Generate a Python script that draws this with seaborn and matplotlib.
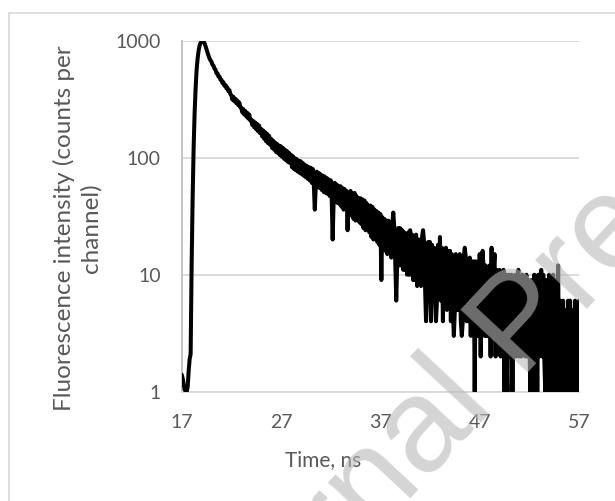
import numpy as np
import pandas as pd
import seaborn as sns
import matplotlib
matplotlib.use("Agg")
import matplotlib.pyplot as plt
from matplotlib.lines import Line2D
from matplotlib.ticker import NullLocator, FixedLocator, FixedFormatter

# ---------------- data ----------------
t_first = 17.0          # ns, first channel shown
t_step = 0.1            # ns per channel
counts = [
    1.4, 1.3, 1.15, 1.05, 1.0, 1.0, 1.1, 1.5, 1.9, 2.1,          # 17
    12, 45, 120, 240, 390, 560, 700, 820, 910, 960,              # 18
    985, 995, 980, 950, 900, 840, 790, 745, 705, 680,            # 19
    660, 622, 612, 578, 566, 526, 526, 494, 494, 464,            # 20
    463, 434, 442, 412, 419, 392, 398, 371, 378, 350,            # 21
    340, 314, 332, 304, 319, 292, 308, 281, 296, 270,            # 22
    268, 244, 260, 234, 251, 225, 242, 216, 234, 208,            # 23
    212, 190, 206, 182, 200, 175, 194, 168, 188, 162,            # 24
    176, 152, 171, 145, 165, 138, 160, 133, 154, 129,            # 25
    145, 121, 140, 117, 135, 112, 131, 109, 127, 105,            # 26
    125, 102, 121, 98, 117, 95, 114, 92, 110, 90,                # 27
    106, 83, 103, 80, 99, 78, 97, 76, 94, 74,                    # 28
    93, 72, 90, 70, 87, 68, 85, 66, 83, 64,                      # 29
    82, 61, 80, 59, 36, 58, 76, 56, 74, 55,                      # 30
    72, 53, 70, 51, 69, 50, 67, 49, 65, 47,                      # 31
    64, 45, 20, 44, 61, 42, 59, 41, 57, 40,                      # 32
    57, 38, 55, 36, 54, 37, 52, 24, 50, 34,                      # 33
    52, 32, 49, 30, 50, 29, 47, 30, 45, 28,                      # 34
    45, 27, 44, 25, 43, 24, 41, 25, 39, 23,                      # 35
    39, 21, 38, 20, 36, 21, 35, 19, 34, 18,                      # 36
    33, 9, 31, 17, 30, 16, 29, 15, 29, 16,                       # 37
    28, 14, 27, 34, 26, 13, 6, 13, 25, 12,                       # 38
    25, 12, 24, 11, 23, 11, 22, 10, 23, 10,                      # 39
    24, 10, 22, 9, 21, 9, 22, 8, 20, 9,                          # 40
    20, 8, 21, 24, 19, 8, 4, 7, 19, 8,                           # 41
    19, 4, 18, 7, 17, 7, 4, 6, 18, 7,                            # 42
    21, 6, 17, 4, 16, 6, 17, 5, 16, 6,                           # 43
    16, 4, 15, 5, 3, 5, 15, 5, 14, 5,                            # 44
    15, 4, 3, 4, 14, 17, 14, 4, 13, 4,                           # 45
    14, 3, 13, 4, 13, 1, 13, 3, 12, 3,                           # 46
    15, 2, 12, 16, 11, 3, 12, 3, 11, 3,                          # 47
    12, 2, 17, 3, 11, 15, 2, 11, 3, 10,                          # 48
    11, 2, 10, 3, 11, 1, 10, 2, 1, 10,                           # 49
    9, 2, 10, 1, 9, 2, 10, 2, 9, 11,                             # 50
    2, 9, 2, 10, 3, 9, 2, 10, 2, 9,                              # 51
    3, 1, 9, 2, 1, 10, 2, 9, 1, 10,                              # 52
    2, 9, 11, 2, 10, 2, 1, 9, 2, 1,                              # 53
    10, 2, 9, 1, 10, 2, 1, 9, 2, 12,                             # 54
    1, 6, 2, 1, 6, 1, 5, 2, 1, 6,                                # 55
    1, 6, 2, 1, 5, 1, 6, 1, 2, 1,                                # 56
    6,                                                           # 57
]
time_ns = [round(t_first + i * t_step, 1) for i in range(len(counts))]

x_ticks = [17, 27, 37, 47, 57]
x_tick_labels = ["17", "27", "37", "47", "57"]
y_ticks = [1, 10, 100, 1000]
y_tick_labels = ["1", "10", "100", "1000"]
x_title = "Time, ns"
y_title = "Fluorescence intensity (counts per\nchannel)"
watermark = "Journal Pre-proof"

# ---------------- figure ----------------
sns.set_theme(style="white")
plt.rcParams["font.family"] = ["Lato", "DejaVu Sans"]

W, H = 615, 501
fig = plt.figure(figsize=(W / 100, H / 100), dpi=100)
fig.patch.set_facecolor("white")

L, R, T, B = 181.7, 579.0, 40.7, 391.7
ax = fig.add_axes([L / W, 1 - B / H, (R - L) / W, (B - T) / H])

df = pd.DataFrame({"Time": time_ns, "Counts": counts})
sns.lineplot(data=df, x="Time", y="Counts", ax=ax, color="black",
             linewidth=2.9, estimator=None, sort=False, zorder=3)

ax.set_yscale("log")
ax.set_ylim(1, 1000)
ax.set_xlim(17, 57)
ax.yaxis.set_major_locator(FixedLocator(y_ticks))
ax.yaxis.set_major_formatter(FixedFormatter(y_tick_labels))
ax.yaxis.set_minor_locator(NullLocator())
ax.xaxis.set_major_locator(FixedLocator(x_ticks))
ax.xaxis.set_major_formatter(FixedFormatter(x_tick_labels))
ax.set_xlabel("")
ax.set_ylabel("")

ax.grid(axis="y", color="#d9d9d9", linewidth=1.3)
ax.grid(axis="x", visible=False)
ax.set_axisbelow(True)
for s in ["top", "right"]:
    ax.spines[s].set_visible(False)
ax.spines["left"].set_color("#bfbfbf")
ax.spines["left"].set_linewidth(1.3)
ax.spines["bottom"].set_color("#d9d9d9")
ax.spines["bottom"].set_linewidth(1.3)
ax.tick_params(axis="both", length=0, labelcolor="#595959", labelsize=14)
ax.tick_params(axis="y", pad=15)
ax.tick_params(axis="x", pad=16)

fig.text(323.5 / W, 1 - 460 / H, x_title, ha="center", va="center",
         fontsize=15, color="#595959")
fig.text(77 / W, 1 - 228 / H, y_title, ha="center", va="center",
         rotation=90, multialignment="center", fontsize=17.5,
         color="#595959", linespacing=1.3)

# chart-area border (cropped on right and bottom)
bc = "#d9d9d9"
fig.add_artist(Line2D([8.5 / W, 8.5 / W], [0, 1 - 12.5 / H],
                      transform=fig.transFigure, color=bc, linewidth=1.2))
fig.add_artist(Line2D([8.5 / W, 1.0], [1 - 12.5 / H, 1 - 12.5 / H],
                      transform=fig.transFigure, color=bc, linewidth=1.2))

# watermark
fig.text(548.9 / W, 1 - 349.8 / H, watermark, rotation=47,
         rotation_mode="anchor", ha="center", va="baseline",
         fontsize=96, family=["Liberation Sans", "DejaVu Sans"],
         color=(0.72, 0.72, 0.72), alpha=0.6, zorder=100)

fig.savefig("out.png", dpi=100)
